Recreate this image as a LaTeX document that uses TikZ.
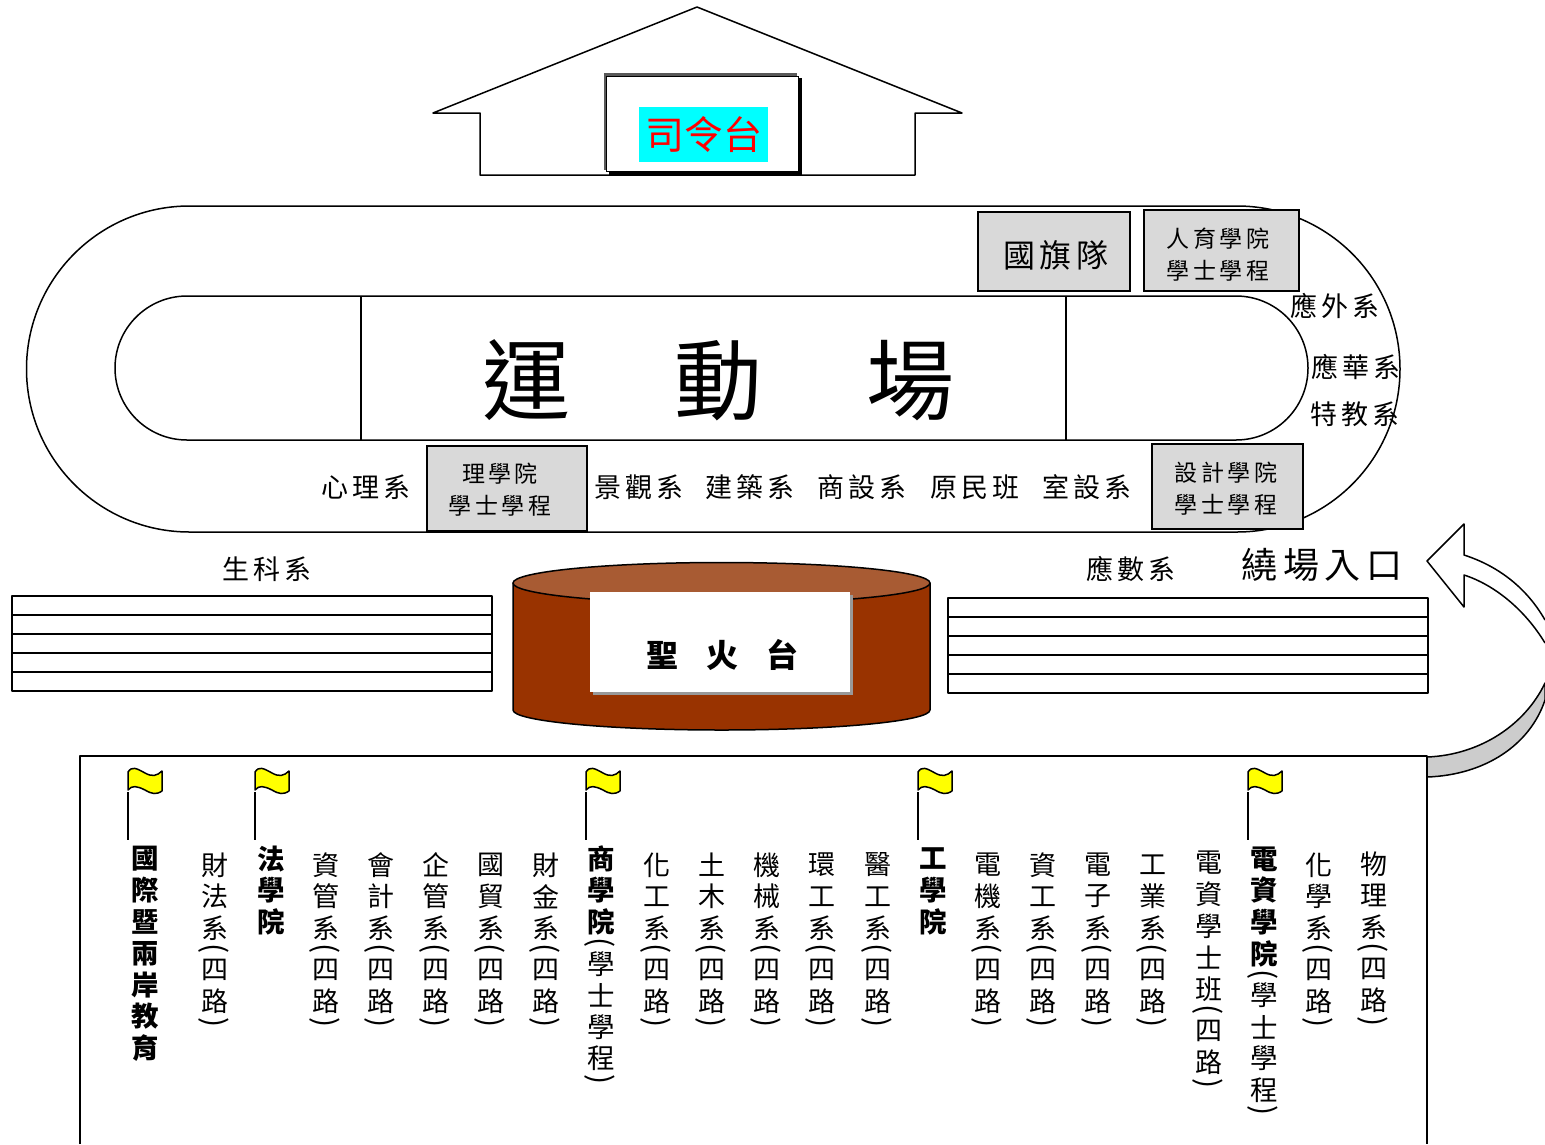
\documentclass[tikz,border=0pt]{standalone}
\usepackage{fontspec}
\usepackage{graphicx}
\setmainfont{Noto Sans CJK TC}
\newfontfamily\spacedcjk[LetterSpace=15]{Noto Sans CJK TC}
\definecolor{boxgray}{HTML}{D9D9D9}
\definecolor{fireface}{HTML}{993300}
\definecolor{firetop}{HTML}{A85B33}
\definecolor{arrowgray}{HTML}{CCCCCC}
\definecolor{shadowgray}{HTML}{999999}
\definecolor{standcyan}{HTML}{00FFFF}
\definecolor{standred}{HTML}{FF0000}
\definecolor{flagyellow}{HTML}{FFFF00}
\definecolor{standedge}{HTML}{595959}
\newcommand\Ch[1]{\hbox to 34pt{\hss\vbox to 31.5pt{\vss\hbox{#1}\vss}\hss}}
\newcommand\Po{\hbox to 34pt{\hss\vbox to 10.5pt{\vss\hbox{\fontsize{30}{30}\selectfont\rotatebox{-90}{(}}\vss}\hskip1.5pt\hss}}
\newcommand\Pc{\hbox to 34pt{\hss\vbox to 10.5pt{\vss\hbox{\fontsize{30}{30}\selectfont\rotatebox{-90}{)}}\vss}\hskip1.5pt\hss}}
\newcommand\Four{\Po\Ch{四}\Ch{路}\Pc}
\newcommand\Prog{\Po\Ch{學}\Ch{士}\Ch{學}\Ch{程}\Pc}
\newcommand\Dept[2]{\vbox{\offinterlineskip\Ch{#1}\Ch{#2}\Ch{系}\Four}}
\tikzset{
  line/.style={draw=black,line width=1.5pt,line join=round},
  grayplate/.style={line,fill=boxgray,inner sep=0pt,line join=miter},
  coltext/.style={anchor=north,inner sep=0pt,font=\fontsize{27}{31}\selectfont},
  boldcol/.style={coltext,font=\fontsize{27.5}{31}\selectfont\bfseries},
  lab/.style={inner sep=0pt,font=\spacedcjk\fontsize{27}{31}\selectfont},
  platetext/.style={inner sep=0pt,align=center,font=\spacedcjk\fontsize{23}{32}\selectfont},
  banner/.pic={
    \draw[line,fill=flagyellow] (0,-20) .. controls (4,-26) and (8,-24) .. (17,-19)
      .. controls (24,-15) and (29,-16) .. (34,-21)
      -- (34,-1) .. controls (28,3) and (24,2) .. (17,-2)
      .. controls (9,-6) and (4,-7) .. (0,-2) -- cycle;
    \draw[line] (0,0) -- (0,48);
  }
}
\begin{document}
\begin{tikzpicture}[x=1pt,y=-1pt]
\useasboundingbox (0,0) rectangle (1545,1144);
% reviewing stand
\draw[line,fill=white] (480,175) -- (480,113) -- (433,113) -- (697,7) -- (962,113) -- (915,113) -- (915,175) -- cycle;
\fill[standedge] (604,73) rectangle (797,170);
\fill[black] (609,78) rectangle (802,176);
\draw[fill=white,draw=black,line width=1pt] (606.5,76.5) rectangle (798,171);
\node[fill=standcyan,text=standred,inner sep=0pt,minimum width=129pt,minimum height=55pt,font=\fontsize{39}{39}\selectfont] (stand) at (703.5,134.5) {司令台};
% track
\draw[line,fill=white] (189.5,206) -- (1237,206) arc[start angle=-90,end angle=90,radius=163] -- (189.5,532) arc[start angle=90,end angle=270,radius=163] -- cycle;
\draw[line,fill=white] (187,296) -- (1236,296) arc[start angle=-90,end angle=90,radius=72] -- (187,440) arc[start angle=90,end angle=270,radius=72] -- cycle;
\draw[line] (361,296) -- (361,440);
\draw[line] (1066,296) -- (1066,440);
\node[inner sep=0pt,font=\fontsize{88}{90}\selectfont] (field) at (718.5,380) {運\hspace{104pt}動\hspace{104pt}場};
% plates
\node[grayplate,minimum width=152pt,minimum height=79pt] (flagteam) at (1054,251.5) {};
\node[inner sep=0pt,font=\spacedcjk\fontsize{32}{34}\selectfont] (flagteamtext) at (1056,255) {國旗隊};
\node[grayplate,minimum width=155pt,minimum height=81pt] (humanities) at (1221.5,250.5) {};
\node[platetext] (humanitiestext) at (1218,254.5) {人育學院\\學士學程};
\node[grayplate,minimum width=160pt,minimum height=85pt] (science) at (507,488.5) {};
\node[platetext] (sciencetext) at (500,490) {理學院\\學士學程};
\node[grayplate,minimum width=151pt,minimum height=85pt] (design) at (1227.5,486.5) {};
\node[platetext] (designtext) at (1226,489) {設計學院\\學士學程};
% department labels on the track
\node[lab] (d1) at (1335,306) {應外系};
\node[lab] (d2) at (1356,367) {應華系};
\node[lab] (d3) at (1355,414) {特教系};
\node[lab] (d4) at (366,487) {心理系};
\node[lab] (d5) at (639,487) {景觀系};
\node[lab] (d6) at (750,487) {建築系};
\node[lab] (d7) at (862,487) {商設系};
\node[lab] (d8) at (975,487) {原民班};
\node[lab] (d9) at (1087,487) {室設系};
\node[lab] (d10) at (267,569) {生科系};
\node[lab] (d11) at (1131,569) {應數系};
\node[inner sep=0pt,font=\spacedcjk\fontsize{36}{36}\selectfont] (entry) at (1322,565) {繞場入口};
% stands
\draw[line] (12,596) rectangle (492,691);
\foreach \ly in {615,634,653,672} \draw[line] (12,\ly) -- (492,\ly);
\draw[line] (948,598) rectangle (1428,693);
\foreach \ly in {617,636,655,674} \draw[line] (948,\ly) -- (1428,\ly);
% torch stand
\draw[line,fill=fireface] (513,583) -- (513,710) arc[x radius=208.5,y radius=20,start angle=180,end angle=0] -- (930,583) -- cycle;
\draw[line,fill=firetop] (721.5,583) ellipse[x radius=208.5,y radius=20.5];
\fill[shadowgray] (593,595) rectangle (853,695);
\node[fill=white,inner sep=0pt,minimum width=260pt,minimum height=100pt] (torch) at (720,642) {};
\node[inner sep=0pt,font=\fontsize{32}{34}\selectfont\bfseries] (torchtext) at (722,655) {聖\hspace{28pt}火\hspace{28pt}台};
% curved arrow
\draw[line,fill=white] (1545,620) .. controls (1525,585) and (1495,565) .. (1464,555) -- (1464,524) -- (1427,561) -- (1464,607) -- (1464,575) .. controls (1495,585) and (1525,610) .. (1545,643);
\draw[line,fill=arrowgray] (1427,757) .. controls (1480,755) and (1525,725) .. (1545,683) -- (1545,700) .. controls (1530,745) and (1485,775) .. (1427,777) -- cycle;
% field of classes
\draw[line,fill=white] (80,1144) -- (80,756) -- (1427,756) -- (1427,1144);
\foreach \fx in {128,255,586,918,1248} \pic at (\fx,792) {banner};
% columns
\node[boldcol] (c1) at (145,843) {\vbox{\offinterlineskip\Ch{國}\Ch{際}\Ch{暨}\Ch{兩}\Ch{岸}\Ch{教}\Ch{育}}};
\node[coltext] (c2) at (215,849) {\Dept{財}{法}};
\node[boldcol] (c3) at (271,843) {\vbox{\offinterlineskip\Ch{法}\Ch{學}\Ch{院}}};
\node[coltext] (c4) at (326,849) {\Dept{資}{管}};
\node[coltext] (c5) at (381,849) {\Dept{會}{計}};
\node[coltext] (c6) at (436,849) {\Dept{企}{管}};
\node[coltext] (c7) at (491,849) {\Dept{國}{貿}};
\node[coltext] (c8) at (546,849) {\Dept{財}{金}};
\node[boldcol] (c9) at (601,843) {\vbox{\offinterlineskip\Ch{商}\Ch{學}\Ch{院}\mdseries\Prog}};
\node[coltext] (c10) at (657,849) {\Dept{化}{工}};
\node[coltext] (c11) at (712,849) {\Dept{土}{木}};
\node[coltext] (c12) at (767,849) {\Dept{機}{械}};
\node[coltext] (c13) at (822,849) {\Dept{環}{工}};
\node[coltext] (c14) at (878,849) {\Dept{醫}{工}};
\node[boldcol] (c15) at (933,843) {\vbox{\offinterlineskip\Ch{工}\Ch{學}\Ch{院}}};
\node[coltext] (c16) at (988,849) {\Dept{電}{機}};
\node[coltext] (c17) at (1043,849) {\Dept{資}{工}};
\node[coltext] (c18) at (1098,849) {\Dept{電}{子}};
\node[coltext] (c19) at (1153,849) {\Dept{工}{業}};
\node[coltext] (c20) at (1209,847) {\vbox{\offinterlineskip\Ch{電}\Ch{資}\Ch{學}\Ch{士}\Ch{班}\Four}};
\node[boldcol] (c21) at (1264,843) {\vbox{\offinterlineskip\Ch{電}\Ch{資}\Ch{學}\Ch{院}\mdseries\Prog}};
\node[coltext] (c22) at (1319,849) {\Dept{化}{學}};
\node[coltext] (c23) at (1374,848) {\Dept{物}{理}};
\end{tikzpicture}
\end{document}
